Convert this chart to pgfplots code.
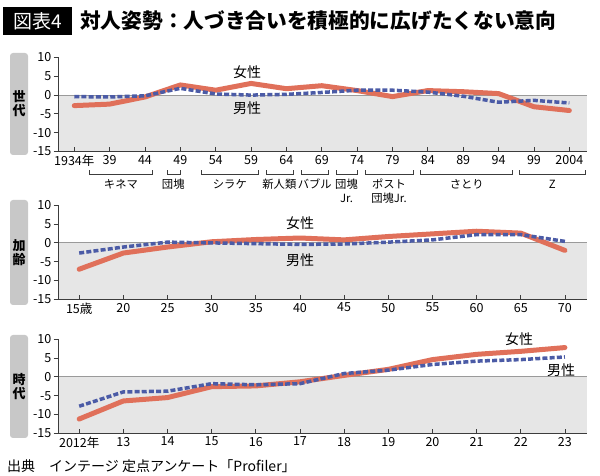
\documentclass[border=0pt]{standalone}
\usepackage{fontspec}
\setmainfont{Noto Sans CJK JP}
\usepackage{pgfplots}
\pgfplotsset{compat=1.18}

\definecolor{femc}{HTML}{E0705A}
\definecolor{malc}{HTML}{4B5BA6}
\definecolor{shade}{HTML}{E6E6E6}
\definecolor{tabgray}{HTML}{C8C8C8}
\definecolor{axl}{HTML}{3C3C3C}
\definecolor{zero}{HTML}{9A9A9A}

\newcommand{\fs}[1]{\fontsize{#1bp}{#1bp}\selectfont}

\pgfplotsset{
  panel/.style={
    scale only axis, width=529bp, height=94bp,
    axis x line*=bottom, axis y line*=left,
    axis line style={axl, line width=0.9bp},
    axis on top, clip=false,
    ymin=-15, ymax=10, ytick={-15,-10,-5,0,5,10},
    yticklabels={-15,-10,-5,0,5,10},
    tick align=outside,
    major tick length=4.5bp,
    tick style={axl, line width=0.8bp},
    xtick style={yshift=4.5bp},
    ticklabel style={font=\fs{12.5}},
    yticklabel style={inner sep=1bp, xshift=-1bp},
    xticklabel style={inner sep=1bp, yshift=2bp},
  },
  femline/.style={femc, line width=5bp, line join=round, line cap=round},
  malline/.style={malc, line width=3.5bp, dash pattern=on 5bp off 2.2bp},
}

% generation bracket below the first panel
\newcommand{\gen}[2]{%
  \draw[axl, line width=0.8bp]
    ([yshift=-19bp]axis cs:#1,-15) -- ([yshift=-22.5bp]axis cs:#1,-15)
    -- ([yshift=-22.5bp]axis cs:#2,-15) -- ([yshift=-19bp]axis cs:#2,-15);
}
\newcommand{\genlabel}[3]{%
  \node[anchor=base, inner sep=0, font=\fs{11.3}] at ([yshift=-#2bp]axis cs:#1,-15) {#3};
}

\begin{document}
\begin{tikzpicture}
\useasboundingbox (0,0) rectangle (600bp,476bp);
\fill[white] (0,0) rectangle (600bp,476bp);

% title
\fill[black] (3bp,441bp) rectangle (72bp,469bp);
\node[white, inner sep=0, font=\fs{19}] at (37.5bp,455bp) {図表4};
\node[anchor=west, inner sep=0, font=\fs{20.7}\bfseries] at (80bp,455bp)
  {対人姿勢：人づき合いを積極的に広げたくない意向};

% side tabs
\fill[tabgray, rounded corners=3bp] (10bp,321bp) rectangle (28bp,423bp);
\node[align=center, inner sep=0, font=\fontsize{13bp}{14bp}\selectfont\bfseries] at (19bp,372bp) {世\\代};
\fill[tabgray, rounded corners=3bp] (10bp,171bp) rectangle (28bp,276bp);
\node[align=center, inner sep=0, font=\fontsize{13bp}{14bp}\selectfont\bfseries] at (19bp,223.5bp) {加\\齢};
\fill[tabgray, rounded corners=3bp] (10bp,38bp) rectangle (28bp,141bp);
\node[align=center, inner sep=0, font=\fontsize{13bp}{14bp}\selectfont\bfseries] at (19bp,89.5bp) {時\\代};

% ---------- panel 1: generation ----------
\begin{axis}[panel, at={(58bp,324.5bp)}, anchor=south west,
  xmin=1931.7, xmax=2006.5,
  xtick={1934,1939,1944,1949,1954,1959,1964,1969,1974,1979,1984,1989,1994,1999,2004},
  xticklabels={1934年,39,44,49,54,59,64,69,74,79,84,89,94,99,2004}]
\addplot[fill=shade, draw=none] coordinates {(1931.7,-15) (2006.5,-15) (2006.5,0) (1931.7,0)} -- cycle;
\addplot[zero, line width=0.8bp] coordinates {(1931.7,0) (2006.5,0)};
\addplot[femline] coordinates {
  (1934,-2.8) (1939,-2.4) (1944,-0.5) (1949,2.7) (1954,1.3) (1959,3.1) (1964,1.7)
  (1969,2.5) (1974,1.2) (1979,-0.4) (1984,1.2) (1989,0.9) (1994,0.4) (1999,-3.1) (2004,-4.1)};
\addplot[malline] coordinates {
  (1934,-0.4) (1939,-0.5) (1944,-0.2) (1949,1.8) (1954,0.3) (1959,0.0) (1964,0.2)
  (1969,0.7) (1974,1.3) (1979,1.3) (1984,0.8) (1989,-0.3) (1994,-1.9) (1999,-1.4) (2004,-2.1)};
\gen{1936.2}{1945.1}
\gen{1947.1}{1949.0}
\gen{1952.0}{1960.0}
\gen{1961.1}{1965.0}
\gen{1966.1}{1970.0}
\gen{1971.0}{1974.0}
\gen{1975.1}{1982.0}
\gen{1983.0}{1996.0}
\gen{1997.0}{2006.3}
\genlabel{1940.6}{37.5}{キネマ}
\genlabel{1948.0}{37.5}{団塊}
\genlabel{1956.0}{37.5}{シラケ}
\genlabel{1963.0}{37.5}{新人類}
\genlabel{1968.0}{37.5}{バブル}
\genlabel{1972.5}{37.5}{団塊}
\genlabel{1972.5}{51}{Jr.}
\genlabel{1978.5}{37.5}{ポスト}
\genlabel{1978.5}{51}{団塊Jr.}
\genlabel{1989.5}{37.5}{さとり}
\genlabel{2001.6}{37.5}{Z}
\end{axis}

% ---------- panel 2: age ----------
\begin{axis}[panel, at={(58bp,176.7bp)}, anchor=south west,
  xmin=12.6, xmax=72.5,
  xtick={15,20,25,30,35,40,45,50,55,60,65,70},
  xticklabels={15歳,20,25,30,35,40,45,50,55,60,65,70}]
\addplot[fill=shade, draw=none] coordinates {(12.6,-15) (72.5,-15) (72.5,0) (12.6,0)} -- cycle;
\addplot[zero, line width=0.8bp] coordinates {(12.6,0) (72.5,0)};
\addplot[femline] coordinates {
  (15,-7.0) (20,-2.7) (25,-1.1) (30,0.3) (35,0.9) (40,1.3) (45,0.8)
  (50,1.7) (55,2.4) (60,3.1) (65,2.6) (70,-2.0)};
\addplot[malline] coordinates {
  (15,-2.7) (20,-1.1) (25,0.2) (30,0.0) (35,-0.2) (40,-0.4) (45,-0.3)
  (50,0.2) (55,0.8) (60,2.2) (65,2.2) (70,0.4)};
\end{axis}

% ---------- panel 3: period ----------
\begin{axis}[panel, at={(58bp,42.7bp)}, anchor=south west,
  xmin=2011.52, xmax=2023.5,
  xtick={2012,2013,2014,2015,2016,2017,2018,2019,2020,2021,2022,2023},
  xticklabels={2012年,13,14,15,16,17,18,19,20,21,22,23}]
\addplot[fill=shade, draw=none] coordinates {(2011.52,-15) (2023.5,-15) (2023.5,0) (2011.52,0)} -- cycle;
\addplot[zero, line width=0.8bp] coordinates {(2011.52,0) (2023.5,0)};
\addplot[femline] coordinates {
  (2012,-11.2) (2013,-6.4) (2014,-5.5) (2015,-2.6) (2016,-2.4) (2017,-1.3)
  (2018,0.4) (2019,2.0) (2020,4.6) (2021,6.0) (2022,6.8) (2023,7.8)};
\addplot[malline] coordinates {
  (2012,-7.8) (2013,-4.0) (2014,-3.8) (2015,-1.8) (2016,-2.1) (2017,-1.8)
  (2018,0.9) (2019,1.8) (2020,3.3) (2021,4.2) (2022,4.6) (2023,5.3)};
\end{axis}

% series labels
\node[font=\fs{14}] at (247bp,404bp) {女性};
\node[font=\fs{14}] at (247bp,368bp) {男性};
\node[font=\fs{14}] at (300bp,252.7bp) {女性};
\node[font=\fs{14}] at (300bp,216bp) {男性};
\node[font=\fs{14}] at (519bp,137bp) {女性};
\node[font=\fs{14}] at (561bp,106bp) {男性};

% source
\node[anchor=west, inner sep=0, font=\fs{14}] at (7bp,10bp) {出典　インテージ 定点アンケート「Profiler」};
\end{tikzpicture}
\end{document}
